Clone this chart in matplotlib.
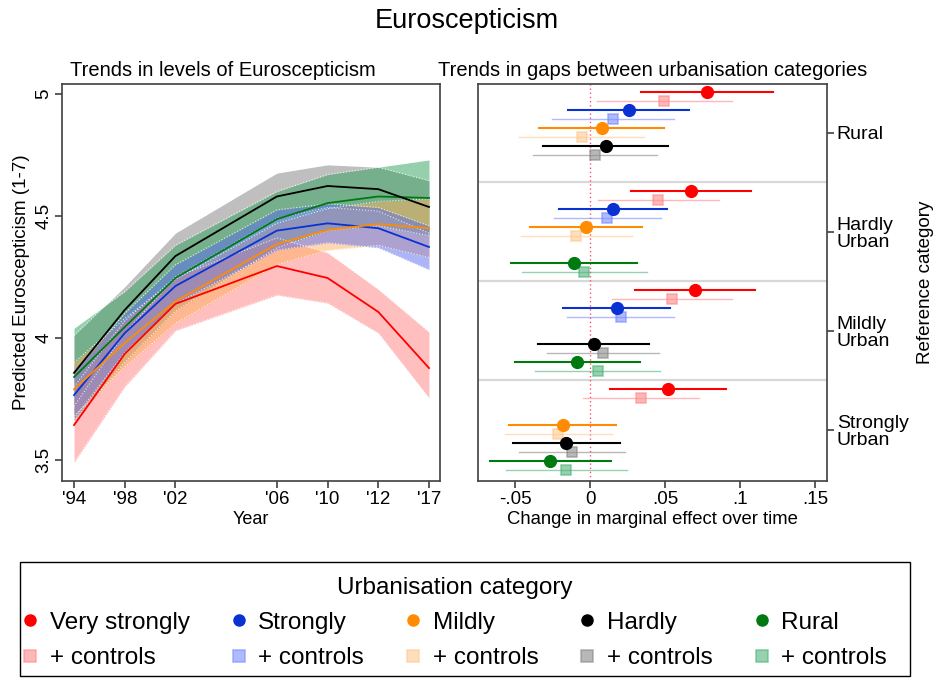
import matplotlib.pyplot as plt
from matplotlib.lines import Line2D
from matplotlib.patches import Rectangle

plt.rcParams['font.family'] = ['Liberation Sans', 'DejaVu Sans']

# survey waves (x positions follow the wave number, not the calendar year)
wave = [1, 2, 3, 5, 6, 7, 8]
year_labels = ["'94", "'98", "'02", "'06", "'10", "'12", "'17"]

categories = ['Very strongly', 'Strongly', 'Mildly', 'Hardly', 'Rural']

# predicted levels with confidence bands (left panel)
lvl_vs = [3.643, 3.935, 4.140, 4.295, 4.246, 4.107, 3.877]
lvl_vs_lo = [3.49, 3.80, 4.03, 4.176, 4.143, 4.02, 3.754]
lvl_vs_hi = [3.80, 4.07, 4.25, 4.41, 4.35, 4.20, 4.025]

lvl_st = [3.766, 4.020, 4.213, 4.440, 4.470, 4.450, 4.373]
lvl_st_lo = [3.67, 3.94, 4.14, 4.36, 4.39, 4.37, 4.28]
lvl_st_hi = [3.86, 4.10, 4.30, 4.525, 4.55, 4.535, 4.46]

lvl_mi = [3.790, 3.980, 4.150, 4.385, 4.443, 4.467, 4.450]
lvl_mi_lo = [3.68, 3.88, 4.06, 4.30, 4.36, 4.38, 4.33]
lvl_mi_hi = [3.90, 4.08, 4.24, 4.47, 4.53, 4.56, 4.57]

lvl_ha = [3.857, 4.115, 4.336, 4.580, 4.623, 4.610, 4.537]
lvl_ha_lo = [3.72, 4.02, 4.25, 4.49, 4.535, 4.52, 4.43]
lvl_ha_hi = [4.01, 4.21, 4.43, 4.676, 4.71, 4.70, 4.645]

lvl_ru = [3.84, 4.045, 4.246, 4.487, 4.553, 4.580, 4.574]
lvl_ru_lo = [3.66, 3.90, 4.11, 4.37, 4.44, 4.46, 4.42]
lvl_ru_hi = [4.04, 4.19, 4.38, 4.60, 4.67, 4.70, 4.73]

# change in marginal effect (right panel), per reference category:
# (estimate, lower, upper); None where the category is the reference
ref_groups = ['Rural', 'Hardly\nUrban', 'Mildly\nUrban', 'Strongly\nUrban']

gap_vs = [(0.0778, 0.0338, 0.1218), (0.0676, 0.0276, 0.1071),
          (0.0700, 0.0298, 0.1098), (0.0518, 0.0133, 0.0904)]
gap_vs_ctrl = [(0.0496, 0.0044, 0.0944), (0.0456, 0.0053, 0.0862),
               (0.0547, 0.0144, 0.0949), (0.0340, -0.0044, 0.0724)]
gap_st = [(0.0258, -0.0144, 0.0662), (0.0151, -0.0204, 0.0511),
          (0.0180, -0.0178, 0.0536), None]
gap_st_ctrl = [(0.0151, -0.0251, 0.0558), (0.0116, -0.0240, 0.0471),
               (0.0204, -0.0151, 0.0560), None]
gap_mi = [(0.0078, -0.0338, 0.0496), (-0.0027, -0.0400, 0.0347),
          None, (-0.0182, -0.0540, 0.0173)]
gap_mi_ctrl = [(-0.0056, -0.0471, 0.0362), (-0.0093, -0.0460, 0.0280),
               None, (-0.0211, -0.0564, 0.0147)]
gap_ha = [(0.0104, -0.0311, 0.0520), None,
          (0.0024, -0.0349, 0.0396), (-0.0160, -0.0516, 0.0200)]
gap_ha_ctrl = [(0.0033, -0.0378, 0.0449), None,
               (0.0087, -0.0284, 0.0458), (-0.0120, -0.0476, 0.0236)]
gap_ru = [None, (-0.0109, -0.0524, 0.0311),
          (-0.0084, -0.0498, 0.0336), (-0.0264, -0.0667, 0.0140)]
gap_ru_ctrl = [None, (-0.0040, -0.0453, 0.0378),
               (0.0051, -0.0367, 0.0467), (-0.0158, -0.0560, 0.0249)]

line_colors = ['#ff0000', '#0a32d2', '#ff8c00', '#000000', '#007a10']
band_colors = ['#ff8080', '#5a6cf0', '#ffb060', '#808080', '#2ca05a']
ctrl_colors = ['#ff8a8a', '#7a8cff', '#ffc890', '#8a8a8a', '#50b47a']

levels = [(lvl_vs, lvl_vs_lo, lvl_vs_hi), (lvl_st, lvl_st_lo, lvl_st_hi),
          (lvl_mi, lvl_mi_lo, lvl_mi_hi), (lvl_ha, lvl_ha_lo, lvl_ha_hi),
          (lvl_ru, lvl_ru_lo, lvl_ru_hi)]
gaps = [(gap_vs, gap_vs_ctrl), (gap_st, gap_st_ctrl), (gap_mi, gap_mi_ctrl),
        (gap_ha, gap_ha_ctrl), (gap_ru, gap_ru_ctrl)]

fig = plt.figure(figsize=(9.34, 6.78), dpi=100)
fig.text(0.5, 1 - 21 / 678, 'Euroscepticism', ha='center', va='center', fontsize=19.5)

spine_col = '#404040'
tick_fs = 13.5

# ---- left panel ----
ax1 = fig.add_axes([62 / 934, 1 - 481 / 678, 378 / 934, 397 / 678])
band_order = [3, 4, 0, 2, 1]
for i in band_order:
    mid, lo, hi = levels[i]
    ax1.fill_between(wave, lo, hi, color=band_colors[i], alpha=0.5, lw=0)
    ax1.plot(wave, lo, color='white', lw=0.8, ls=':', alpha=0.8)
    ax1.plot(wave, hi, color='white', lw=0.8, ls=':', alpha=0.8)
for i in [0, 1, 2, 4, 3]:
    mid = levels[i][0]
    ax1.plot(wave, mid, color=line_colors[i], lw=1.3)

ax1.set_xlim(0.763, 8.217)
ax1.set_ylim(3.414, 5.041)
ax1.set_xticks(wave)
ax1.set_xticklabels(year_labels, fontsize=tick_fs)
ax1.set_yticks([3.5, 4, 4.5, 5])
ax1.set_yticklabels(['3.5', '4', '4.5', '5'], rotation=90, va='center', fontsize=tick_fs)
ax1.set_xlabel('Year', fontsize=13, labelpad=2)
ax1.set_ylabel('Predicted Euroscepticism (1-7)', fontsize=13.5, labelpad=4)
ax1.tick_params(length=5, color=spine_col, width=1.2, pad=2)
for s in ax1.spines.values():
    s.set_color(spine_col)
    s.set_linewidth(1.2)
fig.text(223 / 934, 1 - 70 / 678, 'Trends in levels of Euroscepticism',
         ha='center', va='center', fontsize=14.5)

# ---- right panel ----
ax2 = fig.add_axes([478 / 934, 1 - 481 / 678, 349 / 934, 397 / 678])
for g in range(3):
    ax2.axhline(g * 11 + 10, color='#d8d8d8', lw=1.6, zorder=0)
ax2.axvline(0, color='#ff5070', ls=(0, (1, 2)), lw=1, zorder=1)

for k in range(5):
    base, ctrl = gaps[k]
    for g in range(4):
        y = g * 11 + 2 * k
        if k == 4 and g > 0:
            y = g * 11 + 8
        if base[g] is not None:
            est, lo, hi = base[g]
            ax2.plot([lo, hi], [y, y], color=line_colors[k], lw=1.5, zorder=2)
            ax2.plot(est, y, 'o', color=line_colors[k], ms=8.5, zorder=4)
        if ctrl[g] is not None:
            est, lo, hi = ctrl[g]
            ax2.plot([lo, hi], [y + 1, y + 1], color=ctrl_colors[k], lw=1.0,
                     alpha=0.6, zorder=2)
            ax2.plot(est, y + 1, 's', mfc=ctrl_colors[k], mec=ctrl_colors[k],
                     alpha=0.6, ms=7.5, mew=1.2, zorder=3)

ax2.set_xlim(-0.0747, 0.158)
ax2.set_ylim(43.2, -0.9)
ax2.set_xticks([-0.05, 0, 0.05, 0.1, 0.15])
ax2.set_xticklabels(['-.05', '0', '.05', '.1', '.15'], fontsize=tick_fs)
ax2.set_yticks([g * 11 + 4.5 for g in range(4)])
ax2.set_yticklabels(ref_groups, fontsize=14, ha='left', linespacing=1.0)
ax2.yaxis.tick_right()
ax2.yaxis.set_label_position('right')
ax2.set_ylabel('Reference category', fontsize=13.5, labelpad=6)
ax2.set_xlabel('Change in marginal effect over time', fontsize=13.3, labelpad=2)
ax2.tick_params(length=5, color=spine_col, width=1.2, pad=2)
for s in ax2.spines.values():
    s.set_color(spine_col)
    s.set_linewidth(1.2)
fig.text(653 / 934, 1 - 70 / 678, 'Trends in gaps between urbanisation categories',
         ha='center', va='center', fontsize=14.5)

# ---- legend ----
handles = []
labels = []
for k in range(5):
    handles.append(Line2D([], [], ls='', marker='o', color=line_colors[k], ms=8))
    labels.append(categories[k])
    handles.append(Line2D([], [], ls='', marker='s', mfc=ctrl_colors[k],
                          mec=ctrl_colors[k], alpha=0.6, ms=9, mew=1.2))
    labels.append('+ controls')

fig.add_artist(Rectangle((20 / 934, 2 / 678), 890 / 934, 114 / 678,
                         transform=fig.transFigure, fill=False,
                         edgecolor='black', lw=1.0))
leg = fig.legend(handles, labels, ncol=5, loc='center', mode='expand',
                 bbox_to_anchor=(23 / 934, 1 - 623 / 678 - 0.05, 864 / 934, 0.1),
                 title='Urbanisation category', title_fontsize=17.5, fontsize=17.5,
                 frameon=False, handlelength=0.6, handletextpad=0.5,
                 labelspacing=0.55, borderpad=0.0, borderaxespad=0,
                 columnspacing=0.8)

fig.savefig('out.png', dpi=100)
